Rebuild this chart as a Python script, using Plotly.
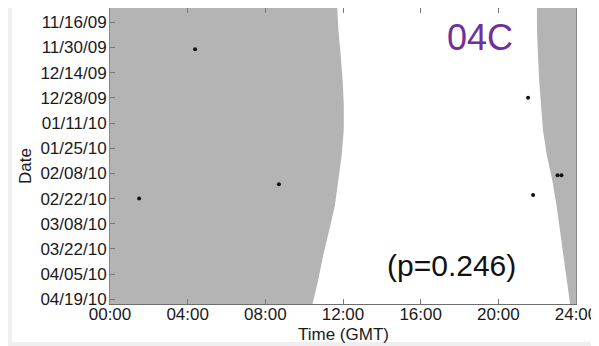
import plotly.graph_objects as go

# --- data ---
edge_dates = ["2009-11-05", "2009-11-20", "2009-12-04", "2009-12-18", "2010-01-01",
              "2010-01-15", "2010-01-29", "2010-02-12", "2010-02-26", "2010-03-12",
              "2010-03-26", "2010-04-09", "2010-04-22"]
sunrise_h = [11.69, 11.76, 11.88, 11.98, 12.04, 12.04, 11.93, 11.76, 11.58, 11.28, 10.97, 10.71, 10.42]
sunset_h = [21.99, 21.99, 22.04, 22.1, 22.2, 22.3, 22.5, 22.78, 23.0, 23.18, 23.38, 23.54, 23.70]

event_dates = ["2009-12-01", "2010-02-22", "2010-02-14", "2009-12-28",
               "2010-02-09", "2010-02-09", "2010-02-20"]
event_hours = [4.38, 1.5, 8.7, 21.53, 23.05, 23.25, 21.79]

date_ticks = ["2009-11-16", "2009-11-30", "2009-12-14", "2009-12-28", "2010-01-11",
              "2010-01-25", "2010-02-08", "2010-02-22", "2010-03-08", "2010-03-22",
              "2010-04-05", "2010-04-19"]
date_labels = ["11/16/09", "11/30/09", "12/14/09", "12/28/09", "01/11/10", "01/25/10",
               "02/08/10", "02/22/10", "03/08/10", "03/22/10", "04/05/10", "04/19/10"]
hour_ticks = [0, 4, 8, 12, 16, 20, 24]
hour_labels = ["00:00", "04:00", "08:00", "12:00", "16:00", "20:00", "24:00"]

FONT = "Liberation Sans, Arial, sans-serif"
NIGHT = "#b4b4b4"

fig = go.Figure()

# daylight region (white) between sunrise and sunset
fig.add_trace(go.Scatter(
    x=sunrise_h + sunset_h[::-1],
    y=edge_dates + edge_dates[::-1],
    fill="toself", fillcolor="white", mode="lines",
    line=dict(width=0, color="white"), hoverinfo="skip", showlegend=False))

fig.add_trace(go.Scatter(
    x=event_hours, y=event_dates, mode="markers",
    marker=dict(size=4, color="#111111", symbol="circle"),
    showlegend=False))

# page body has an 8px margin: figure pixel = screen pixel - 8
OFF = 8
W, H = 599 - OFF, 346 - OFF
L, R, T, B = 110 - OFF, 23, 0, 42
pw, ph = W - L - R, H - T - B


def px(xs):
    return (xs - OFF - L) / pw


def py(ys):
    return (H - B - (ys - OFF)) / ph


border = "#efefef"
shapes = [
    dict(type="rect", xref="paper", yref="paper", x0=px(OFF), x1=px(12), y0=py(346), y1=py(OFF),
         fillcolor=border, line_width=0, layer="below"),
    dict(type="rect", xref="paper", yref="paper", x0=px(OFF), x1=px(599), y0=py(346), y1=py(342),
         fillcolor=border, line_width=0, layer="below"),
]

fig.update_layout(
    width=W, height=H,
    margin=dict(l=L, r=R, t=T, b=B, autoexpand=False),
    paper_bgcolor="white", plot_bgcolor=NIGHT,
    font=dict(family=FONT, size=17, color="#1a1a1a"),
    shapes=shapes,
    xaxis=dict(range=[0, 24], tickvals=hour_ticks, ticktext=hour_labels,
               ticks="inside", ticklen=5, tickcolor="#777777",
               showgrid=False, zeroline=False, showline=True, linecolor="#6e6e6e",
               linewidth=1, mirror="ticks", tickfont=dict(size=17), automargin=False,
               ticklabelstandoff=-5),
    yaxis=dict(type="date", range=["2010-04-21 14:00", "2009-11-08 02:00"],
               tickvals=date_ticks, ticktext=date_labels,
               ticks="inside", ticklen=5, tickcolor="#777777",
               showgrid=False, zeroline=False, showline=True, linecolor="#8a8a8a",
               linewidth=1, mirror=True, tickfont=dict(size=17), automargin=False,
               ticklabelstandoff=-1),
    annotations=[
        dict(text="Date", x=px(25), y=py(166), xref="paper", yref="paper",
             xanchor="center", yanchor="middle",
             showarrow=False, textangle=-90, font=dict(size=17)),
        dict(text="Time (GMT)", x=px(343), y=py(334), xref="paper", yref="paper",
             xanchor="center", yanchor="middle", showarrow=False, font=dict(size=17)),
        dict(text="04C", x=px(480), y=py(37), xref="paper", yref="paper",
             xanchor="center", yanchor="middle",
             showarrow=False, font=dict(size=36, color="#7030a0")),
        dict(text="(p=0.246)", x=px(451), y=py(265), xref="paper", yref="paper",
             xanchor="center", yanchor="middle",
             showarrow=False, font=dict(size=30, color="#111111")),
    ],
)

fig.write_html("out.html")
